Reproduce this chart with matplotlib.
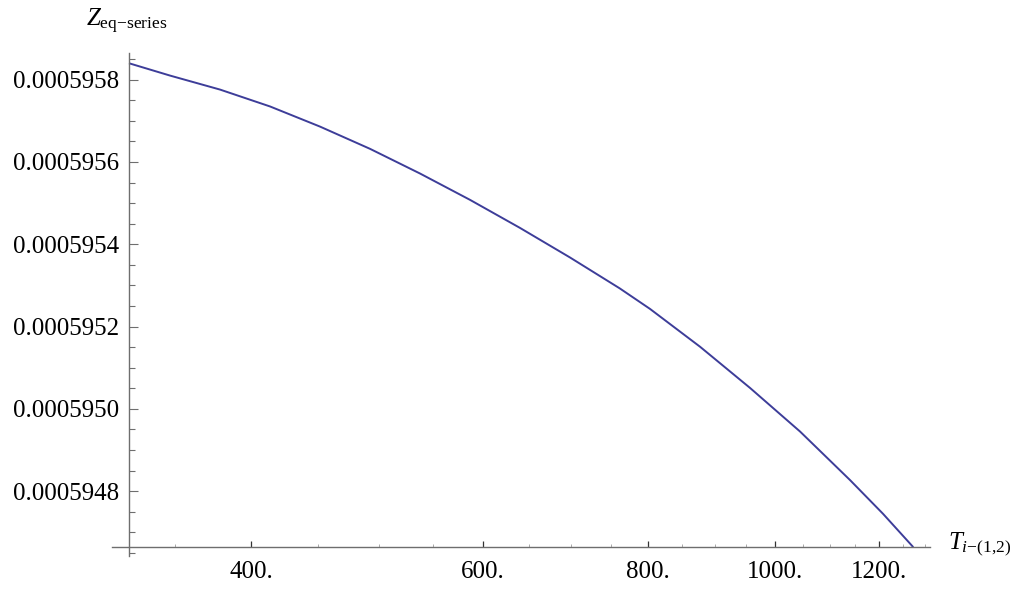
import numpy as np
import matplotlib
matplotlib.use("Agg")
import matplotlib.pyplot as plt
from matplotlib.ticker import FixedLocator, FixedFormatter, NullFormatter

# ---- data ----
T_vals = [323.15, 347.2, 378.9, 413.5, 451.3, 492.5, 537.5, 586.6, 640.0,
          698.6, 762.0, 803.5, 877.0, 957.0, 1044.5, 1139.9, 1207.6, 1273.15]
Z_vals = [0.00059584, 0.00059581, 0.000595776, 0.000595735, 0.000595686,
          0.000595632, 0.000595572, 0.000595508, 0.00059544, 0.000595368,
          0.000595293, 0.000595243, 0.000595151, 0.000595051, 0.000594945,
          0.000594827, 0.000594745, 0.000594664]

x_major = [400, 600, 800, 1000, 1200]
x_major_labels = ["400.", "600.", "800.", "1000.", "1200."]
x_minor = [350, 450, 500, 550, 650, 700, 750, 850, 900, 950, 1050, 1100,
           1150, 1250, 1300]
y_major = [0.0005948, 0.0005950, 0.0005952, 0.0005954, 0.0005956, 0.0005958]
y_major_labels = ["0.0005948", "0.0005950", "0.0005952", "0.0005954",
                  "0.0005956", "0.0005958"]
y_minor = [0.00059465 + 0.00000005 * k for k in range(25)]

plt.rcParams['mathtext.fontset'] = 'custom'
plt.rcParams['mathtext.rm'] = 'Liberation Serif'
plt.rcParams['mathtext.it'] = 'Liberation Serif:italic'
plt.rcParams['font.family'] = ['Liberation Serif', 'DejaVu Serif']

W, H = 1024, 589
fig = plt.figure(figsize=(W / 100, H / 100), dpi=100)
# axes covering pixel box x 112..930, y 53..556 (top-down)
left, right, top, bottom = 112, 930, 53, 556
ax = fig.add_axes([left / W, 1 - bottom / H, (right - left) / W, (bottom - top) / H])

line_color = (0.24, 0.24, 0.6)
ax.plot(T_vals, Z_vals, color=line_color, lw=1.4, solid_capstyle='butt',
        solid_joinstyle='round')

ax.set_xscale('log')
ax.set_xlim(313.7, 1310.9)
ax.set_ylim(0.00059464253, 0.00059586488)

for s in ['top', 'right']:
    ax.spines[s].set_visible(False)
axis_col = '#6e6e6e'
ax.spines['left'].set_position(('data', T_vals[0]))
ax.spines['bottom'].set_position(('data', Z_vals[-1]))
for s in ['left', 'bottom']:
    ax.spines[s].set_color(axis_col)
    ax.spines[s].set_linewidth(1.0)

ax.xaxis.set_major_locator(FixedLocator(x_major))
ax.xaxis.set_major_formatter(FixedFormatter(x_major_labels))
ax.xaxis.set_minor_locator(FixedLocator(x_minor))
ax.xaxis.set_minor_formatter(NullFormatter())
ax.yaxis.set_major_locator(FixedLocator(y_major))
ax.yaxis.set_major_formatter(FixedFormatter(y_major_labels))
ax.yaxis.set_minor_locator(FixedLocator(y_minor))
ax.yaxis.set_minor_formatter(NullFormatter())

ax.tick_params(axis='y', which='major', direction='in', length=6.5, width=0.8,
               color=axis_col, labelsize=18, pad=7)
ax.tick_params(axis='y', which='minor', direction='in', length=4, width=0.8,
               color=axis_col)
ax.tick_params(axis='x', which='major', direction='in', length=4, width=0.9,
               color='#333333', labelsize=18, pad=10)
ax.tick_params(axis='x', which='minor', direction='in', length=2.4, width=0.7,
               color='#aaaaaa')
ax.patch.set_alpha(0)

fig.text(86 / W, 1 - 26 / H, r'$Z_{\mathrm{eq}{-}\mathrm{series}}$', fontsize=18,
         ha='left', va='baseline')
fig.text(948 / W, 1 - 549 / H, r'$T_{i{-}(1{,}2)}$', fontsize=18,
         ha='left', va='baseline')

fig.savefig('out.png', dpi=100, facecolor='white')
